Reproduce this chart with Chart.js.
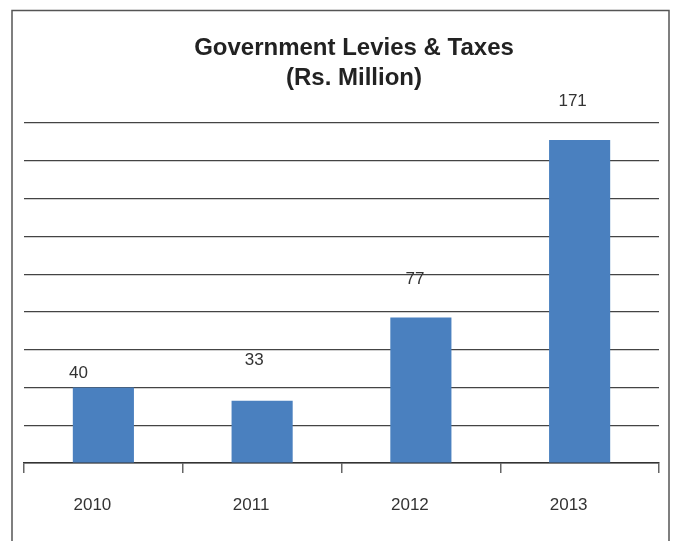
<!DOCTYPE html>
<html>
<head>
<meta charset="utf-8">
<script src="https://cdn.jsdelivr.net/npm/chart.js@4.4.1/dist/chart.umd.min.js"></script>
<style>
  html, body { margin: 0; padding: 0; background: #fff; }
  #wrap { width: 673px; height: 541px; }
</style>
</head>
<body>
<div id="wrap"><canvas id="c" width="673" height="541"></canvas></div>
<script>
// Government levies & taxes, Rs. million
const years = ['2010', '2011', '2012', '2013'];
const levies = [40, 33, 77, 171];
const yTicks = [0, 20, 40, 60, 80, 100, 120, 140, 160, 180];
const titleLines = ['Government Levies & Taxes', '(Rs. Million)'];

// Outer frame around the whole chart
const framePlugin = {
  id: 'frame',
  beforeDraw(chart) {
    const ctx = chart.ctx;
    ctx.save();
    ctx.fillStyle = '#fff';
    ctx.fillRect(0, 0, chart.width, chart.height);
    ctx.strokeStyle = '#555';
    ctx.lineWidth = 1.5;
    ctx.strokeRect(12, 10.5, 657, 600);
    ctx.restore();
  }
};

// Two-line heading above the plot
const headingPlugin = {
  id: 'heading',
  afterDraw(chart, args, opts) {
    const ctx = chart.ctx;
    ctx.save();
    ctx.font = opts.font;
    ctx.fillStyle = opts.color;
    ctx.textAlign = 'center';
    ctx.textBaseline = 'middle';
    opts.lines.forEach((line, i) => {
      ctx.fillText(line, opts.x, opts.y + i * opts.lineHeight);
    });
    ctx.restore();
  }
};

// Value labels above each bar, each with its own offset
const valueLabels = {
  id: 'valueLabels',
  afterDatasetsDraw(chart, args, opts) {
    const ctx = chart.ctx;
    const meta = chart.getDatasetMeta(0);
    ctx.save();
    ctx.font = opts.font;
    ctx.fillStyle = opts.color;
    ctx.textAlign = 'center';
    ctx.textBaseline = 'middle';
    meta.data.forEach((bar, i) => {
      const off = opts.offsets[i] || [0, 0];
      ctx.fillText(String(chart.data.datasets[0].data[i]), bar.x + off[0], bar.y + off[1]);
    });
    ctx.restore();
  }
};

new Chart(document.getElementById('c'), {
  type: 'bar',
  data: {
    labels: years,
    datasets: [{
      data: levies,
      backgroundColor: '#4a80bf',
      borderWidth: 0,
      barPercentage: 0.385,
      categoryPercentage: 1.0
    }]
  },
  options: {
    responsive: false,
    animation: false,
    layout: { padding: { left: 24, right: 14, top: 123, bottom: 0 } },
    plugins: {
      legend: { display: false },
      tooltip: { enabled: false },
      title: { display: false },
      heading: {
        lines: titleLines,
        font: 'bold 24px "Liberation Sans", Arial, sans-serif',
        color: '#222',
        x: 354,
        y: 48,
        lineHeight: 30
      },
      valueLabels: {
        font: '17px "Liberation Sans", Arial, sans-serif',
        color: '#333',
        offsets: [[-25, -14], [-8, -40], [-6, -38], [-7, -39]]
      }
    },
    scales: {
      x: {
        grid: {
          offset: true,
          drawOnChartArea: false,
          drawTicks: true,
          tickLength: 10,
          color: '#666',
          lineWidth: 1.5
        },
        border: { display: true, color: '#333', width: 1.5 },
        ticks: {
          color: '#333',
          padding: 22,
          labelOffset: -11,
          font: { family: '"Liberation Sans", Arial, sans-serif', size: 17 }
        },
        afterFit(scale) { scale.height = 78; }
      },
      y: {
        min: 0,
        max: 180,
        afterBuildTicks(scale) { scale.ticks = yTicks.map(v => ({ value: v })); },
        ticks: { display: false },
        grid: { color: '#444', lineWidth: 1.2, drawTicks: false },
        border: { display: false },
        afterFit(scale) { scale.width = 0; }
      }
    }
  },
  plugins: [framePlugin, headingPlugin, valueLabels]
});
</script>
</body>
</html>
